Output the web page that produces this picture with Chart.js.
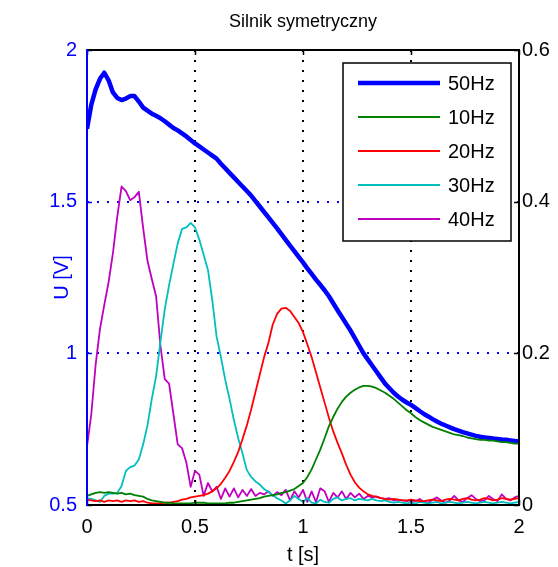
<!DOCTYPE html>
<html>
<head>
<meta charset="utf-8">
<title>Silnik symetryczny</title>
<script src="https://cdn.jsdelivr.net/npm/chart.js@4.4.1/dist/chart.umd.min.js"></script>
<style>
  html, body { margin: 0; padding: 0; background: #fff; }
  #wrap { width: 558px; height: 567px; }
</style>
</head>
<body>
<div id="wrap"><canvas id="motorChart" width="558" height="567"></canvas></div>
<script>
// time base [s]
const tSec = [
  0, 0.02, 0.04, 0.06, 0.08, 0.1, 0.12, 0.14, 0.16, 0.18,
  0.2, 0.22, 0.24, 0.26, 0.28, 0.3, 0.32, 0.34, 0.36, 0.38,
  0.4, 0.42, 0.44, 0.46, 0.48, 0.5, 0.52, 0.54, 0.56, 0.58,
  0.6, 0.62, 0.64, 0.66, 0.68, 0.7, 0.72, 0.74, 0.76, 0.78,
  0.8, 0.82, 0.84, 0.86, 0.88, 0.9, 0.92, 0.94, 0.96, 0.98,
  1, 1.02, 1.04, 1.06, 1.08, 1.1, 1.12, 1.14, 1.16, 1.18,
  1.2, 1.22, 1.24, 1.26, 1.28, 1.3, 1.32, 1.34, 1.36, 1.38,
  1.4, 1.42, 1.44, 1.46, 1.48, 1.5, 1.52, 1.54, 1.56, 1.58,
  1.6, 1.62, 1.64, 1.66, 1.68, 1.7, 1.72, 1.74, 1.76, 1.78,
  1.8, 1.82, 1.84, 1.86, 1.88, 1.9, 1.92, 1.94, 1.96, 1.98,
  2
];

// 50Hz voltage, left axis [V]
const u50 = [
  1.74, 1.82, 1.87, 1.905, 1.925, 1.90, 1.86, 1.842, 1.835, 1.84,
  1.848, 1.848, 1.83, 1.81, 1.80, 1.79, 1.783, 1.775, 1.765, 1.754,
  1.743, 1.735, 1.725, 1.715, 1.703, 1.692, 1.682, 1.672, 1.662, 1.652,
  1.642, 1.625, 1.61, 1.595, 1.58, 1.565, 1.55, 1.535, 1.52, 1.502,
  1.484, 1.466, 1.448, 1.43, 1.412, 1.393, 1.374, 1.355, 1.337, 1.318,
  1.30, 1.28, 1.262, 1.243, 1.226, 1.208, 1.188, 1.165, 1.142, 1.12,
  1.097, 1.075, 1.05, 1.025, 1.0, 0.98, 0.96, 0.94, 0.92, 0.90,
  0.885, 0.87, 0.858, 0.847, 0.838, 0.83, 0.82, 0.81, 0.80, 0.792,
  0.783, 0.775, 0.768, 0.762, 0.756, 0.75, 0.745, 0.74, 0.736, 0.732,
  0.728, 0.725, 0.723, 0.721, 0.719, 0.718, 0.716, 0.715, 0.713, 0.711,
  0.709
];

// remaining harmonics, right axis
const g10 = [
  0.012, 0.014, 0.016, 0.017, 0.016, 0.017, 0.016, 0.015, 0.016, 0.014,
  0.015, 0.013, 0.012, 0.011, 0.008, 0.006, 0.005, 0.004, 0.003, 0.003,
  0.002, 0.002, 0.002, 0.002, 0.002, 0.003, 0.003, 0.003, 0.002, 0.002,
  0.002, 0.002, 0.002, 0.003, 0.003, 0.004, 0.005, 0.006, 0.007, 0.008,
  0.009, 0.011, 0.012, 0.013, 0.014, 0.016, 0.017, 0.019, 0.021, 0.025,
  0.029, 0.037, 0.047, 0.06, 0.073, 0.088, 0.104, 0.116, 0.127, 0.136,
  0.143, 0.148, 0.152, 0.155, 0.157, 0.157, 0.156, 0.154, 0.151, 0.148,
  0.144, 0.14, 0.135, 0.13, 0.125, 0.121, 0.116, 0.112, 0.109, 0.106,
  0.103, 0.101, 0.099, 0.097, 0.095, 0.093, 0.092, 0.091, 0.089, 0.088,
  0.087, 0.086, 0.086, 0.085, 0.085, 0.084, 0.083, 0.083, 0.082, 0.081,
  0.081
];

const r20 = [
  0.007, 0.006, 0.005, 0.006, 0.004, 0.006, 0.005, 0.006, 0.004, 0.006,
  0.005, 0.006, 0.004, 0.005, 0.003, 0.002, 0.002, 0.002, 0.003, 0.003,
  0.004, 0.005, 0.007, 0.008, 0.01, 0.011, 0.012, 0.013, 0.015, 0.018,
  0.022, 0.028, 0.036, 0.045, 0.057, 0.07, 0.087, 0.105, 0.126, 0.149,
  0.172, 0.195, 0.214, 0.238, 0.252, 0.259, 0.26, 0.256, 0.248, 0.24,
  0.228, 0.212, 0.195, 0.175, 0.155, 0.135, 0.115, 0.097, 0.082, 0.068,
  0.053, 0.04, 0.03, 0.023, 0.018, 0.014, 0.012, 0.011, 0.009, 0.008,
  0.007, 0.008, 0.007, 0.006, 0.006, 0.007, 0.006, 0.005, 0.005, 0.006,
  0.007, 0.006, 0.005, 0.007, 0.008, 0.007, 0.006, 0.008, 0.009, 0.007,
  0.006, 0.007, 0.009, 0.008, 0.006, 0.007, 0.009, 0.008, 0.007, 0.008,
  0.009
];

const c30 = [
  0.009, 0.008, 0.006, 0.004, 0.012, 0.015, 0.015, 0.016, 0.025, 0.045,
  0.05, 0.052, 0.06, 0.08, 0.105, 0.14, 0.17, 0.215, 0.258, 0.29,
  0.318, 0.345, 0.364, 0.366, 0.372, 0.366, 0.35, 0.33, 0.31, 0.27,
  0.222, 0.195, 0.165, 0.14, 0.112, 0.088, 0.068, 0.046, 0.037, 0.031,
  0.027, 0.021, 0.017, 0.013, 0.009, 0.006, 0.002, 0.006, 0.012, 0.008,
  0.004, 0.009, 0.003, 0.002, 0.007, 0.004, 0.003, 0.008, 0.01, 0.006,
  0.008, 0.009, 0.006, 0.008, 0.007, 0.006, 0.008, 0.006, 0.005, 0.006,
  0.004, 0.003, 0.004, 0.003, 0.002, 0.003, 0.002, 0.004, 0.003, 0.002,
  0.003, 0.004, 0.002, 0.003, 0.004, 0.003, 0.002, 0.003, 0.004, 0.003,
  0.002, 0.003, 0.004, 0.003, 0.002, 0.003, 0.004, 0.003, 0.002, 0.003,
  0.004
];

const m40 = [
  0.077, 0.12, 0.185, 0.232, 0.264, 0.294, 0.332, 0.38, 0.42, 0.414,
  0.402, 0.406, 0.413, 0.365, 0.322, 0.298, 0.275, 0.21, 0.166, 0.16,
  0.12, 0.08, 0.075, 0.056, 0.024, 0.045, 0.04, 0.012, 0.029, 0.018,
  0.024, 0.008, 0.022, 0.011, 0.022, 0.01, 0.02, 0.012, 0.021, 0.012,
  0.016, 0.014, 0.018, 0.012, 0.017, 0.013, 0.02, 0.006, 0.018, 0.01,
  0.02, 0.004, 0.018, 0.004, 0.022, 0.018, 0.004, 0.016, 0.01, 0.018,
  0.008, 0.016, 0.01, 0.015, 0.008, 0.012, 0.01, 0.011, 0.009, 0.008,
  0.009, 0.006, 0.007, 0.006, 0.005, 0.006, 0.005, 0.008, 0.004, 0.003,
  0.007, 0.01, 0.006, 0.003, 0.006, 0.012, 0.006, 0.004, 0.009, 0.013,
  0.008, 0.005, 0.006, 0.012, 0.008, 0.005, 0.014, 0.008, 0.006, 0.01,
  0.012
];

const seriesLabels = ['50Hz', '10Hz', '20Hz', '30Hz', '40Hz'];
const chartTitle = 'Silnik symetryczny';

const FONT = "'Liberation Sans', Arial, Helvetica, sans-serif";
const BLUE = '#0000ff';

function toPoints(values) {
  return values.map((v, i) => ({ x: tSec[i], y: v }));
}

// short tick text: 1 instead of 1.0
const shortNum = v => String(+Number(v).toFixed(2));

// MATLAB style frame: title over the axes, box, inward tick marks, boxed legend
const matlabFrame = {
  id: 'matlabFrame',
  afterDraw(chart) {
    const { ctx, chartArea: a, scales } = chart;
    const tick = 5;
    ctx.save();

    // title centred over the plot box
    ctx.fillStyle = '#000';
    ctx.font = '18px ' + FONT;
    ctx.textAlign = 'center';
    ctx.textBaseline = 'middle';
    ctx.fillText(chartTitle, (a.left + a.right) / 2, 22);

    // inward ticks
    ctx.lineWidth = 1.5;
    ctx.strokeStyle = '#000';
    ctx.beginPath();
    scales.x.ticks.forEach(t => {
      const px = Math.round(scales.x.getPixelForValue(t.value)) + 0.5;
      ctx.moveTo(px, a.top); ctx.lineTo(px, a.top + tick);
      ctx.moveTo(px, a.bottom); ctx.lineTo(px, a.bottom - tick);
    });
    scales.y1.ticks.forEach(t => {
      const py = Math.round(scales.y1.getPixelForValue(t.value)) + 0.5;
      ctx.moveTo(a.right, py); ctx.lineTo(a.right - tick, py);
    });
    ctx.stroke();
    ctx.strokeStyle = BLUE;
    ctx.beginPath();
    scales.y.ticks.forEach(t => {
      const py = Math.round(scales.y.getPixelForValue(t.value)) + 0.5;
      ctx.moveTo(a.left, py); ctx.lineTo(a.left + tick, py);
    });
    ctx.stroke();

    // box
    ctx.lineWidth = 2;
    ctx.strokeStyle = '#000';
    ctx.beginPath();
    ctx.moveTo(a.left, a.top); ctx.lineTo(a.right, a.top);
    ctx.lineTo(a.right, a.bottom); ctx.lineTo(a.left, a.bottom);
    ctx.stroke();
    ctx.strokeStyle = BLUE;
    ctx.beginPath();
    ctx.moveTo(a.left, a.top - 1); ctx.lineTo(a.left, a.bottom + 1);
    ctx.stroke();

    // legend
    const box = { x: 343, y: 63, w: 168, h: 178 };
    ctx.fillStyle = '#fff';
    ctx.fillRect(box.x, box.y, box.w, box.h);
    ctx.lineWidth = 1.5;
    ctx.strokeStyle = '#000';
    ctx.strokeRect(box.x, box.y, box.w, box.h);
    ctx.font = '20px ' + FONT;
    ctx.textBaseline = 'middle';
    ctx.textAlign = 'left';
    chart.data.datasets.forEach((ds, i) => {
      const y = box.y + 20 + i * 34;
      ctx.strokeStyle = ds.borderColor;
      ctx.lineWidth = ds.borderWidth;
      ctx.beginPath();
      ctx.moveTo(box.x + 15, y); ctx.lineTo(box.x + 97, y);
      ctx.stroke();
      ctx.fillStyle = '#000';
      ctx.fillText(ds.label, box.x + 105, y + 1);
    });
    ctx.restore();
  }
};

Chart.defaults.font.family = FONT;
Chart.defaults.font.size = 20;
Chart.defaults.color = '#000';

new Chart(document.getElementById('motorChart'), {
  type: 'line',
  data: {
    datasets: [
      { label: seriesLabels[0], data: toPoints(u50), yAxisID: 'y',
        borderColor: BLUE, borderWidth: 4.5, order: 2 },
      { label: seriesLabels[1], data: toPoints(g10), yAxisID: 'y1',
        borderColor: '#008000', borderWidth: 1.8, order: 1 },
      { label: seriesLabels[2], data: toPoints(r20), yAxisID: 'y1',
        borderColor: '#ff0000', borderWidth: 1.8, order: 1 },
      { label: seriesLabels[3], data: toPoints(c30), yAxisID: 'y1',
        borderColor: '#00bfbf', borderWidth: 1.8, order: 1 },
      { label: seriesLabels[4], data: toPoints(m40), yAxisID: 'y1',
        borderColor: '#bf00bf', borderWidth: 1.8, order: 1 }
    ]
  },
  options: {
    responsive: false,
    animation: false,
    devicePixelRatio: 1,
    elements: {
      point: { radius: 0 },
      line: { tension: 0, borderJoinStyle: 'round' }
    },
    layout: { padding: { top: 50 } },
    plugins: {
      legend: { display: false },
      tooltip: { enabled: false },
      title: { display: false }
    },
    scales: {
      x: {
        type: 'linear',
        min: 0, max: 2,
        ticks: { stepSize: 0.5, autoSkip: false, maxRotation: 0, padding: 10, color: '#000', callback: shortNum },
        grid: {
          drawTicks: false,
          lineWidth: 2,
          color: ctx => (ctx.tick && ctx.tick.value > 0 && ctx.tick.value < 2) ? '#000' : 'rgba(0,0,0,0)'
        },
        border: { display: false, dash: [2, 8] },
        title: { display: true, text: 't [s]', color: '#000', padding: { top: 0, bottom: 0 } },
        afterFit: s => { s.height = 62; }
      },
      y: {
        position: 'left',
        min: 0.5, max: 2,
        ticks: { stepSize: 0.5, padding: 10, color: BLUE, callback: shortNum },
        grid: {
          drawTicks: false,
          lineWidth: 2,
          color: ctx => (ctx.tick && ctx.tick.value > 0.5 && ctx.tick.value < 2) ? BLUE : 'rgba(0,0,0,0)'
        },
        border: { display: false, dash: [2, 8] },
        title: { display: true, text: 'U [V]', color: BLUE, padding: { top: 50, bottom: 0 } },
        afterFit: s => { s.width = 87; }
      },
      y1: {
        position: 'right',
        min: 0, max: 0.6,
        ticks: { stepSize: 0.2, padding: 3, color: '#000', callback: shortNum },
        grid: { drawOnChartArea: false, drawTicks: false },
        border: { display: false },
        afterFit: s => { s.width = 39; }
      }
    }
  },
  plugins: [matlabFrame]
});
</script>
</body>
</html>
